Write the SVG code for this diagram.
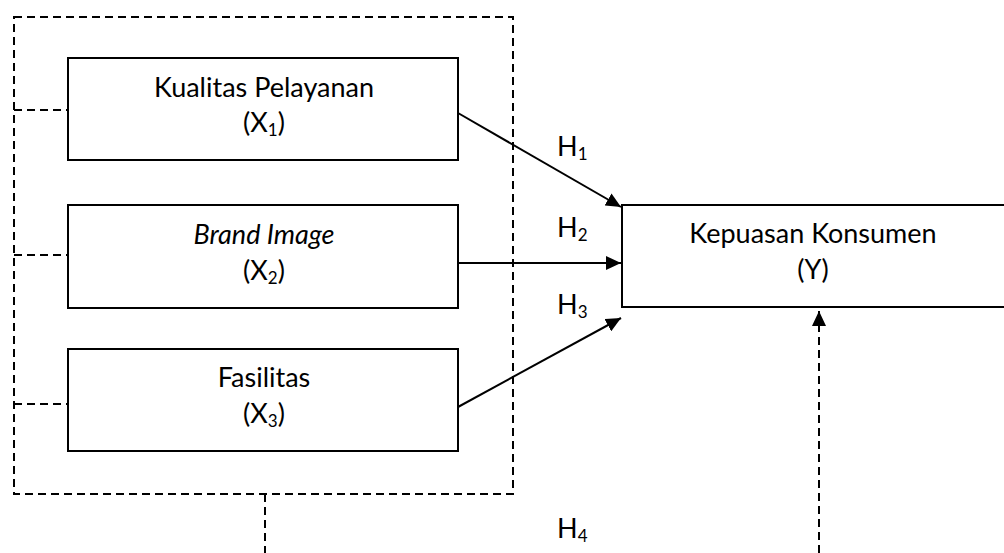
<svg xmlns="http://www.w3.org/2000/svg" width="1004" height="553" viewBox="0 0 1004 553">
  <style>
    .box { fill: #ffffff; stroke: #000000; stroke-width: 2; }
    .dash { fill: none; stroke: #000000; stroke-width: 2; stroke-dasharray: 8 5; }
    .line { fill: none; stroke: #000000; stroke-width: 2; }
    text { font-family: Lato, "Open Sans", sans-serif; font-size: 27px; fill: #000000; text-anchor: middle; }
    .sub { font-size: 17px; }
    .lbl { text-anchor: start; }
  </style>
  <defs>
    <marker id="arrow" viewBox="0 0 15 14" refX="15" refY="7" markerWidth="15" markerHeight="14" markerUnits="userSpaceOnUse" orient="auto">
      <path d="M0,0 L15,7 L0,14 Z" fill="#000000"/>
    </marker>
  </defs>

  <rect width="1004" height="553" fill="#ffffff"/>

  <!-- grouping frame around the three independent variables -->
  <g id="frame">
    <rect class="dash" x="14" y="17" width="499" height="477"/>
  </g>

  <g id="connectors">
    <!-- stubs from the frame to each variable -->
    <line class="dash" x1="14" y1="110" x2="68" y2="110"/>
    <line class="dash" x1="14" y1="255" x2="68" y2="255"/>
    <line class="dash" x1="14" y1="404" x2="68" y2="404"/>
    <!-- partial effects H1..H3 -->
    <line class="line" x1="458" y1="113" x2="621" y2="207" marker-end="url(#arrow)"/>
    <line class="line" x1="458" y1="263" x2="621" y2="263" marker-end="url(#arrow)"/>
    <line class="line" x1="458" y1="407" x2="621" y2="318" marker-end="url(#arrow)"/>
    <!-- simultaneous effect H4 -->
    <line class="dash" x1="265" y1="494" x2="265" y2="553"/>
    <line class="dash" x1="819" y1="553" x2="819" y2="311" marker-end="url(#arrow)"/>
  </g>

  <g id="x1">
    <rect class="box" x="68" y="58" width="390" height="102"/>
    <text x="264" y="97">Kualitas Pelayanan</text>
    <text x="264" y="132">(X<tspan class="sub" dy="4">1</tspan><tspan dy="-4">)</tspan></text>
  </g>

  <g id="x2">
    <rect class="box" x="68" y="205" width="390" height="103"/>
    <text x="264" y="244" font-style="italic">Brand Image</text>
    <text x="264" y="280">(X<tspan class="sub" dy="4">2</tspan><tspan dy="-4">)</tspan></text>
  </g>

  <g id="x3">
    <rect class="box" x="68" y="349" width="390" height="102"/>
    <text x="264" y="387">Fasilitas</text>
    <text x="264" y="423">(X<tspan class="sub" dy="4">3</tspan><tspan dy="-4">)</tspan></text>
  </g>

  <g id="y">
    <rect class="box" x="622" y="205" width="390" height="102"/>
    <text x="813" y="243">Kepuasan Konsumen</text>
    <text x="813" y="279">(Y)</text>
  </g>

  <g id="labels">
    <text class="lbl" x="557" y="156">H<tspan class="sub" dy="4">1</tspan></text>
    <text class="lbl" x="557" y="237">H<tspan class="sub" dy="4">2</tspan></text>
    <text class="lbl" x="557" y="314">H<tspan class="sub" dy="4">3</tspan></text>
    <text class="lbl" x="557" y="538">H<tspan class="sub" dy="4">4</tspan></text>
  </g>
</svg>
